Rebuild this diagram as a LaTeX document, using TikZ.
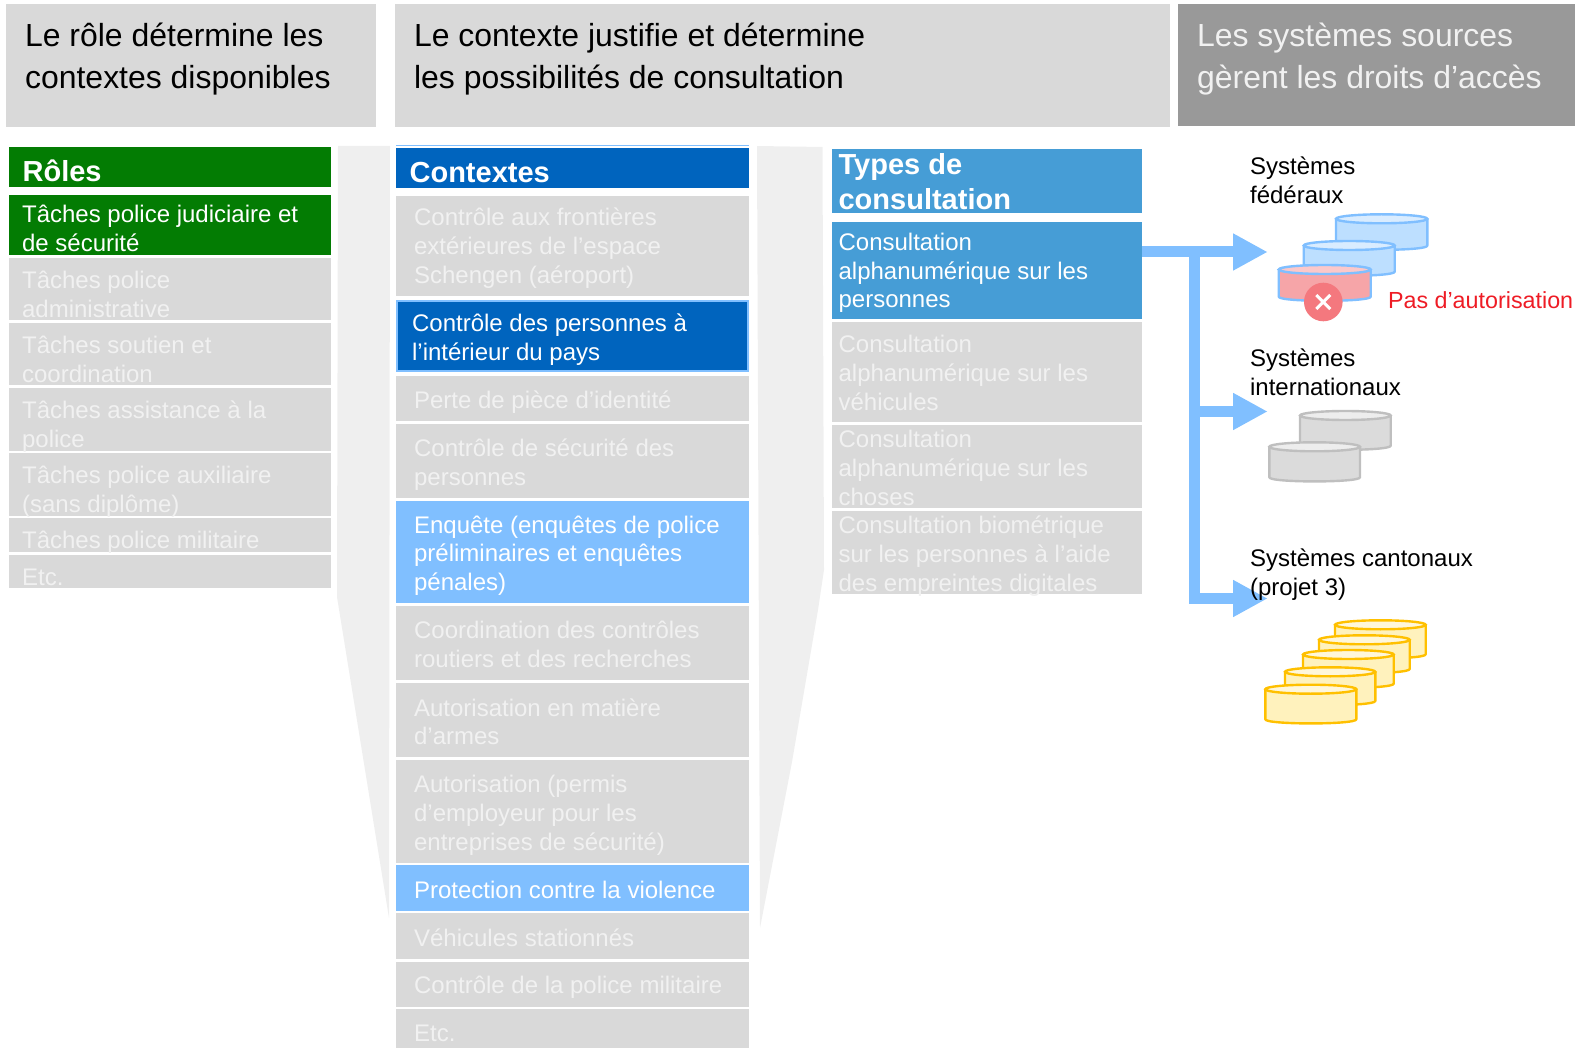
\documentclass[tikz,border=0pt]{standalone}
\usepackage{fontspec}
\setmainfont{Liberation Sans}
\usetikzlibrary{arrows.meta}
\definecolor{cgreen}{HTML}{037C03}
\definecolor{cdark}{HTML}{0064BE}
\definecolor{clight}{HTML}{80BFFF}
\definecolor{ctype}{HTML}{469DD6}
\definecolor{cgray}{HTML}{D9D9D9}
\definecolor{cmid}{HTML}{999999}
\definecolor{cfun}{HTML}{EFEFEF}
\definecolor{ctxt}{HTML}{F1F1F1}
\definecolor{credt}{HTML}{EE1C25}
\definecolor{cbf}{HTML}{BDDFFF}
\definecolor{cbt}{HTML}{D9ECFF}
\definecolor{crf}{HTML}{F6A5A8}
\definecolor{crt}{HTML}{FBC8CA}
\definecolor{cgf}{HTML}{DBDBDB}
\definecolor{cgt}{HTML}{EDEDED}
\definecolor{cgs}{HTML}{BFBFBF}
\definecolor{cyf}{HTML}{FFF2BD}
\definecolor{cyt}{HTML}{FFF7DA}
\definecolor{cys}{HTML}{FFC000}
\definecolor{credc}{HTML}{F4787E}
\tikzset{
  cellbox/.style={rectangle,inner sep=0pt,outer sep=0pt,anchor=north west,draw=none},
  gr/.style={cellbox,fill=cgray},
  grn/.style={cellbox,fill=cgreen},
  drk/.style={cellbox,fill=cdark},
  lgt/.style={cellbox,fill=clight},
  typ/.style={cellbox,fill=ctype},
  mid/.style={cellbox,fill=cmid},
  txtnode/.style={inner sep=0pt,outer sep=0pt,anchor=base west,text=ctxt,xshift=-0.4pt,yshift=-1pt},
  txtw/.style={txtnode,text=white},
  txtk/.style={txtnode,text=black},
  txtr/.style={txtnode,text=credt},
  conn/.style={draw=clight,line width=11pt,line join=miter},
  connh/.style={conn,-{Triangle[length=34.5pt,width=34.5pt]}},
}
\newcommand\boxcell[6]{%
  \pgfmathsetmacro\bw{#5-#3}\pgfmathsetmacro\bh{#6-#4}%
  \node[#1,minimum width=\bw pt,minimum height=\bh pt] (#2) at (#3,#4) {};}
\newcommand\lab[5]{%
  \node[#1] (#2) at (#3,#4) {\parbox[t]{430pt}{\raggedright\parindent=0pt\fontsize{24}{28.85}\selectfont #5}};}
\newcommand\hdr[5]{%
  \node[#1] (#2) at (#3,#4) {\parbox[t]{700pt}{\raggedright\parindent=0pt\fontsize{31.95}{42}\selectfont #5}};}
\newcommand\bld[5]{%
  \node[#1] (#2) at (#3,#4) {\parbox[t]{300pt}{\raggedright\parindent=0pt\fontsize{29}{34.6}\bfseries\selectfont #5}};}
\newcommand\dbcyl[7]{%
  \pgfmathsetmacro\cya{#2+5.5}\pgfmathsetmacro\cxm{(#1+#3)/2}\pgfmathsetmacro\crx{(#3-#1)/2-1}%
  \pgfmathsetmacro\cl{#1+1}\pgfmathsetmacro\cr{#3-1}\pgfmathsetmacro\cb{#4-5}\pgfmathsetmacro\cc{#4+0.5}%
  \draw[line width=2.4pt,draw=#7,fill=#5,line join=round] (\cl,\cya) -- (\cl,\cb) .. controls (\cl,\cc) and (\cr,\cc) .. (\cr,\cb) -- (\cr,\cya) -- cycle;
  \draw[line width=2.4pt,draw=#7,fill=#6] (\cxm,\cya) ellipse [x radius=\crx pt,y radius=4.5pt];}
\begin{document}
\begin{tikzpicture}[x=1pt,y=-1pt]
\useasboundingbox (0,0) rectangle (1575,1048);
% funnels
\fill[cfun] (338,146) -- (390,146) -- (389,918) -- (337,597) -- cycle;
\fill[cfun] (757,146) -- (822.5,147) -- (824,570) -- (818,610) -- (792,762) -- (760,928) -- cycle;
% top headers
\boxcell{gr}{h1}{6}{4}{376}{127}
\boxcell{gr}{h2}{395}{4}{1170}{127}
\boxcell{mid}{h3}{1178}{4}{1575}{126}
% roles
\boxcell{grn}{r0}{9}{147.3}{331}{187.3}
\boxcell{grn}{r1}{9}{195.3}{331}{255}
\boxcell{gr}{r2}{9}{257.7}{331}{320}
\boxcell{gr}{r3}{9}{322.7}{331}{385.3}
\boxcell{gr}{r4}{9}{388}{331}{450.7}
\boxcell{gr}{r5}{9}{453.3}{331}{516}
\boxcell{gr}{r6}{9}{518.3}{331}{552}
\boxcell{gr}{r7}{9}{554.7}{331}{588.3}
% contexts
\draw[clight,line width=1pt] (396,145.5) -- (749.3,145.5);
\boxcell{drk}{c0}{396}{148}{749.3}{188}
\boxcell{gr}{c1}{396}{196}{749.3}{296}
\node[drk,draw=clight,line width=2pt,minimum width=351.3pt,minimum height=70pt] (c2) at (397,301) {};
\boxcell{gr}{c3}{396}{376}{749.3}{421}
\boxcell{gr}{c4}{396}{424}{749.3}{498}
\boxcell{lgt}{c5}{396}{500.7}{749.3}{603.3}
\boxcell{gr}{c6}{396}{606}{749.3}{680}
\boxcell{gr}{c7}{396}{683}{749.3}{757}
\boxcell{gr}{c8}{396}{760}{749.3}{862.7}
\boxcell{lgt}{c9}{396}{865.3}{749.3}{910.7}
\boxcell{gr}{c10}{396}{913.3}{749.3}{958.7}
\boxcell{gr}{c11}{396}{961.7}{749.3}{1006.7}
\boxcell{gr}{c12}{396}{1009.3}{749.3}{1048}
% types
\boxcell{typ}{t0}{832}{149.3}{1142.3}{213.3}
\boxcell{typ}{t1}{832}{221.7}{1142.3}{319}
\boxcell{gr}{t2}{832}{322}{1142.3}{422}
\boxcell{gr}{t3}{832}{425}{1142.3}{508.3}
\boxcell{gr}{t4}{832}{511}{1142.3}{594.3}
% connectors
\coordinate (tipA) at (1267.7,252);
\coordinate (tipB) at (1267.7,411.5);
\coordinate (tipC) at (1267.7,598.5);
\coordinate (jn) at (1194.7,252);
\draw[conn] (jn) -- (jn |- tipC) -- ([xshift=-20pt]tipC);
\draw[connh] (t1.east |- tipA) -- (tipA);
\draw[connh] (jn |- tipB) -- (tipB);
\draw[connh] ([xshift=-30pt]tipC) -- (tipC);
% cylinders
\dbcyl{1335}{213.3}{1428.3}{250.7}{cbf}{cbt}{clight}
\dbcyl{1302.7}{240}{1395.7}{276.7}{cbf}{cbt}{clight}
\dbcyl{1277.7}{264}{1371.7}{301.7}{crf}{crt}{clight}
\dbcyl{1299}{410}{1391.7}{450.7}{cgf}{cgt}{cgs}
\dbcyl{1268.3}{441.3}{1361}{482.3}{cgf}{cgt}{cgs}
\dbcyl{1334}{619.3}{1426.7}{659.3}{cyf}{cyt}{cys}
\dbcyl{1318}{634.3}{1410.7}{674}{cyf}{cyt}{cys}
\dbcyl{1302}{649}{1394.7}{688.7}{cyf}{cyt}{cys}
\dbcyl{1284}{666.3}{1376.3}{706}{cyf}{cyt}{cys}
\dbcyl{1264.3}{683.7}{1357.3}{724.3}{cyf}{cyt}{cys}
\node[circle,fill=credc,minimum size=38.6pt,inner sep=0pt] (xc) at (1323.3,302) {};
\draw[white,line width=3pt] ([shift={(-7pt,-7pt)}]xc.center) -- ([shift={(7pt,7pt)}]xc.center);
\draw[white,line width=3pt] ([shift={(-7pt,7pt)}]xc.center) -- ([shift={(7pt,-7pt)}]xc.center);
% header text
\hdr{txtk}{h1t}{25.5}{45.5}{Le rôle détermine les\\contextes disponibles}
\hdr{txtk}{h2t}{414.5}{45.5}{Le contexte justifie et détermine\\les possibilités de consultation}
\hdr{txtnode}{h3t}{1197.5}{45.5}{Les systèmes sources\\gèrent les droits d’accès}
% roles text
\bld{txtw}{r0t}{23}{181}{Rôles}
\lab{txtw}{r1t}{22.5}{221.7}{Tâches police judiciaire et\\de sécurité}
\lab{txtnode}{r2t}{22.5}{287.3}{Tâches police\\administrative}
\lab{txtnode}{r3t}{22.5}{352.3}{Tâches soutien et\\coordination}
\lab{txtnode}{r4t}{22.5}{417.3}{Tâches assistance à la\\police}
\lab{txtnode}{r5t}{22.5}{482.3}{Tâches police auxiliaire\\(sans diplôme)}
\lab{txtnode}{r6t}{22.5}{547.7}{Tâches police militaire}
\lab{txtnode}{r7t}{22.5}{584}{Etc.}
% contexts text
\bld{txtw}{c0t}{410}{181.7}{Contextes}
\lab{txtnode}{c1t}{414.5}{225}{Contrôle aux frontières\\extérieures de l’espace\\Schengen (aéroport)}
\lab{txtw}{c2t}{412.5}{331}{Contrôle des personnes à\\l’intérieur du pays}
\lab{txtnode}{c3t}{414.5}{407.7}{Perte de pièce d’identité}
\lab{txtnode}{c4t}{414.5}{455.7}{Contrôle de sécurité des\\personnes}
\lab{txtw}{c5t}{414.5}{532}{Enquête (enquêtes de police\\préliminaires et enquêtes\\pénales)}
\lab{txtnode}{c6t}{414.5}{637.7}{Coordination des contrôles\\routiers et des recherches}
\lab{txtnode}{c7t}{414.5}{715}{Autorisation en matière\\d’armes}
\lab{txtnode}{c8t}{414.5}{791.7}{Autorisation (permis\\d’employeur pour les\\entreprises de sécurité)}
\lab{txtw}{c9t}{414.5}{897}{Protection contre la violence}
\lab{txtnode}{c10t}{414.5}{945}{Véhicules stationnés}
\lab{txtnode}{c11t}{414.5}{992.7}{Contrôle de la police militaire}
\lab{txtnode}{c12t}{414.5}{1040.7}{Etc.}
% types text
\bld{txtw}{t0t}{839}{173.7}{Types de\\consultation}
\lab{txtw}{t1t}{839}{249.3}{Consultation\\alphanumérique sur les\\personnes}
\lab{txtnode}{t2t}{839}{352}{Consultation\\alphanumérique sur les\\véhicules}
\lab{txtnode}{t3t}{839}{446.7}{Consultation\\alphanumérique sur les\\choses}
\lab{txtnode}{t4t}{839}{532.7}{Consultation biométrique\\sur les personnes à l’aide\\des empreintes digitales}
% system labels
\lab{txtk}{s1}{1250.5}{173.3}{Systèmes\\fédéraux}
\lab{txtk}{s2}{1250.5}{365.7}{Systèmes\\internationaux}
\lab{txtk}{s3}{1250.5}{565.5}{Systèmes cantonaux\\(projet 3)}
\node[txtr] (s4) at (1388.4,307.7) {\fontsize{23.3}{28}\selectfont Pas d’autorisation};
\end{tikzpicture}
\end{document}
